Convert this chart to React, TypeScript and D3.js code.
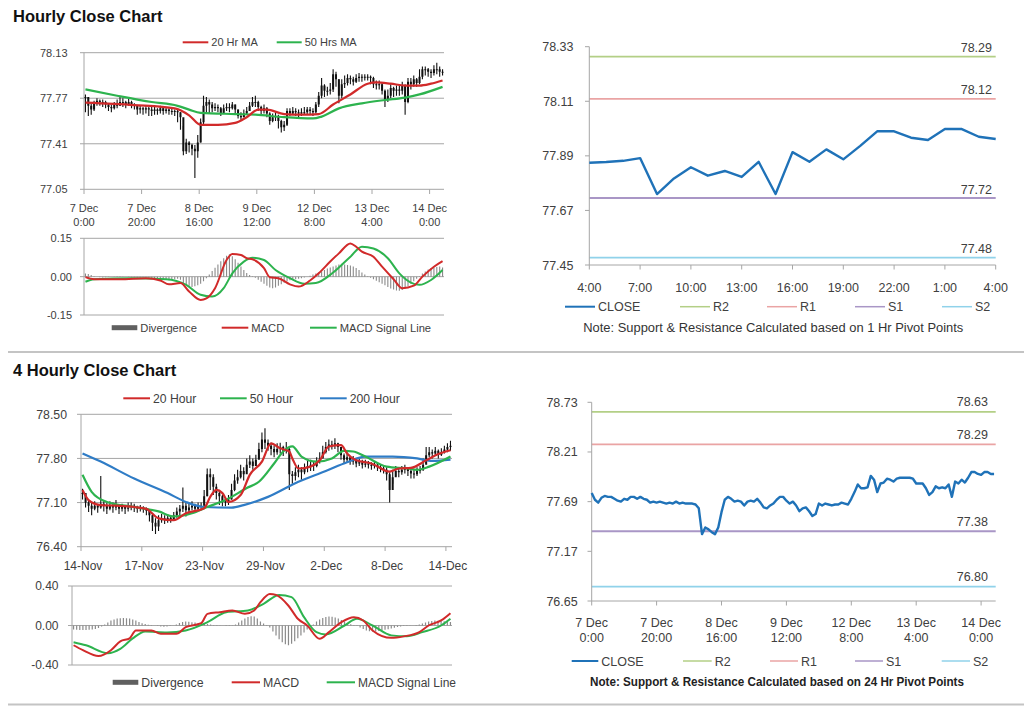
import React from 'react';
import * as d3 from 'd3';

const F = "'Liberation Sans', Arial, Helvetica, sans-serif";
const GRID = '#a6a6a6';
const TXT = '#404040';
const RED = '#d12a2a';
const GREEN = '#2db34e';
const BLUE = '#2f7cc6';
const CLOSE_C = '#1f72b8';
const R2C = '#b3cf86';
const R1C = '#eaa4a4';
const S1C = '#a996c6';
const S2C = '#90d2ea';

// ---------- Hourly data (7 Dec 0:00 -> 14 Dec 4:00) ----------
const hourlyTickIdx = [0, 20, 40, 60, 80, 100, 120];
const hourlyTickLabels = [["7 Dec", "0:00"], ["7 Dec", "20:00"], ["8 Dec", "16:00"], ["9 Dec", "12:00"], ["12 Dec", "8:00"], ["13 Dec", "4:00"], ["14 Dec", "0:00"]];

const hourlyClose = [77.78,77.71,77.68,77.73,77.75,77.74,77.74,77.72,77.70,77.69,
 77.72,77.71,77.74,77.74,77.72,77.74,77.72,77.71,77.68,77.69,
 77.68,77.69,77.68,77.67,77.68,77.67,77.69,77.67,77.68,77.67,
 77.67,77.67,77.66,77.62,77.35,77.42,77.40,77.37,77.35,77.42,
 77.58,77.71,77.74,77.72,77.69,77.70,77.69,77.65,77.69,77.70,
 77.69,77.72,77.68,77.63,77.62,77.65,77.67,77.71,77.74,77.74,
 77.70,77.67,77.69,77.65,77.59,77.62,77.63,77.59,77.54,77.56,
 77.67,77.65,77.67,77.66,77.65,77.66,77.66,77.68,77.67,77.66,
 77.72,77.79,77.87,77.83,77.83,77.84,77.96,77.92,77.79,77.88,
 77.89,77.93,77.92,77.90,77.93,77.94,77.94,77.94,77.94,77.93,
 77.88,77.88,77.88,77.83,77.76,77.79,77.85,77.83,77.84,77.83,
 77.87,77.74,77.90,77.88,77.92,77.89,77.94,78.00,78.00,77.98,
 77.97,78.00,78.00,77.98,77.98];
const hourlyHigh = [77.80,77.78,77.73,77.75,77.77,77.76,77.76,77.75,77.73,77.72,
 77.74,77.76,77.78,77.77,77.75,77.78,77.75,77.73,77.71,77.71,
 77.70,77.71,77.70,77.70,77.70,77.69,77.71,77.70,77.70,77.69,
 77.69,77.68,77.68,77.66,77.55,77.45,77.43,77.41,77.40,77.48,
 77.61,77.79,77.78,77.76,77.74,77.73,77.72,77.70,77.72,77.73,
 77.73,77.74,77.72,77.68,77.66,77.68,77.70,77.74,77.78,77.79,
 77.75,77.71,77.72,77.70,77.66,77.65,77.66,77.64,77.60,77.59,
 77.69,77.69,77.70,77.69,77.68,77.69,77.70,77.70,77.70,77.69,
 77.74,77.82,77.93,77.88,77.86,77.89,78.00,77.98,77.92,77.92,
 77.95,77.96,77.95,77.94,77.96,77.97,77.96,77.96,77.96,77.95,
 77.94,77.91,77.91,77.89,77.84,77.84,77.88,77.86,77.87,77.87,
 77.90,77.88,77.93,77.93,77.95,77.93,78.00,78.02,78.02,78.01,
 78.00,78.03,78.05,78.02,78.00];
const hourlyLow = [77.66,77.63,77.64,77.67,77.71,77.71,77.70,77.69,77.67,77.66,
 77.68,77.69,77.71,77.70,77.69,77.71,77.69,77.68,77.64,77.65,
 77.64,77.65,77.63,77.63,77.64,77.64,77.65,77.64,77.65,77.64,
 77.64,77.63,77.58,77.52,77.32,77.33,77.34,77.32,77.14,77.30,
 77.42,77.56,77.66,77.65,77.66,77.67,77.66,77.63,77.66,77.67,
 77.66,77.68,77.64,77.61,77.60,77.62,77.64,77.67,77.70,77.70,
 77.67,77.64,77.65,77.62,77.56,77.58,77.59,77.53,77.50,77.51,
 77.55,77.63,77.64,77.63,77.62,77.63,77.64,77.64,77.64,77.63,
 77.65,77.70,77.77,77.78,77.79,77.80,77.82,77.86,77.73,77.77,
 77.85,77.87,77.88,77.87,77.89,77.90,77.90,77.91,77.91,77.88,
 77.85,77.84,77.84,77.80,77.70,77.74,77.77,77.78,77.79,77.79,
 77.80,77.64,77.73,77.84,77.86,77.86,77.88,77.92,77.95,77.94,
 77.93,77.95,77.96,77.94,77.95];

const ma20Hr = [[0,77.735],[17,77.716],[31,77.69],[36,77.635],[40,77.56],[46,77.56],[52,77.575],[56,77.62],[60,77.68],[63,77.68],[69,77.645],[75,77.64],[81,77.645],[86,77.72],[92,77.80],[98,77.885],[101,77.895],[106,77.885],[111,77.87],[116,77.87],[120,77.885],[124,77.91]];
const ma50Hr = [[0,77.84],[11,77.79],[23,77.74],[32,77.71],[36,77.68],[40,77.655],[52,77.645],[59,77.64],[69,77.62],[79,77.61],[82,77.625],[88,77.69],[96,77.73],[104,77.756],[111,77.775],[116,77.80],[124,77.86]];

const macdHr = [[0,-0.002],[3,-0.01],[12,-0.01],[21,-0.006],[26,-0.015],[29,-0.03],[33,-0.025],[36,-0.058],[40,-0.091],[42,-0.085],[45,-0.045],[49,0.065],[51,0.089],[54,0.085],[56,0.072],[58,0.068],[62,0.033],[64,-0.002],[67,-0.006],[71,-0.03],[74,-0.039],[78,-0.015],[81,0.013],[85,0.059],[88,0.091],[92,0.13],[94,0.117],[96,0.098],[100,0.078],[103,0.039],[107,-0.01],[110,-0.045],[114,-0.035],[117,0.0],[121,0.039],[124,0.061]];
const signalHr = [[0,-0.02],[3,-0.01],[16,-0.006],[28,-0.01],[35,-0.032],[40,-0.071],[44,-0.078],[48,-0.045],[51,0.013],[55,0.059],[58,0.074],[62,0.065],[66,0.026],[71,-0.006],[76,-0.028],[80,-0.025],[86,0.016],[92,0.078],[96,0.117],[100,0.11],[105,0.072],[109,0.013],[113,-0.023],[116,-0.032],[120,-0.013],[124,0.026]];
const divHr = [0.012,0.010,0.006,0.002,0.0,-0.002,-0.003,-0.002,-0.001,0.0,
 0.001,0.002,0.002,0.001,0.0,-0.001,-0.002,-0.002,-0.003,-0.003,
 -0.002,-0.002,-0.003,-0.004,-0.005,-0.006,-0.008,-0.010,-0.012,-0.014,
 -0.012,-0.010,-0.008,-0.012,-0.025,-0.032,-0.036,-0.040,-0.038,-0.034,
 -0.028,-0.018,-0.006,0.008,0.022,0.035,0.048,0.060,0.072,0.082,
 0.088,0.080,0.068,0.054,0.040,0.026,0.014,0.006,0.002,-0.004,
 -0.012,-0.020,-0.028,-0.036,-0.042,-0.045,-0.042,-0.036,-0.030,-0.024,
 -0.018,-0.014,-0.012,-0.010,-0.008,-0.006,-0.003,0.0,0.004,0.008,
 0.012,0.016,0.020,0.026,0.032,0.036,0.040,0.044,0.048,0.050,
 0.048,0.046,0.044,0.040,0.034,0.026,0.016,0.008,0.002,-0.004,
 -0.010,-0.016,-0.022,-0.028,-0.034,-0.040,-0.046,-0.050,-0.054,-0.055,
 -0.052,-0.046,-0.038,-0.028,-0.018,-0.008,0.002,0.012,0.020,0.028,
 0.034,0.036,0.038,0.040,0.036];

// ---------- 4 hourly data ----------
const fourTickIdx = [0, 20, 40, 60, 80, 100, 120];
const fourTickLabels = ["14-Nov", "17-Nov", "23-Nov", "29-Nov", "2-Dec", "8-Dec", "14-Dec"];
const fourClose = [77.25,77.10,77.05,77.00,77.05,77.02,77.08,77.05,77.00,77.05,
 77.02,77.05,77.00,77.03,77.00,77.02,77.05,77.03,77.00,77.02,
 77.00,76.97,76.90,76.78,76.72,76.82,76.85,76.82,76.86,76.84,
 76.90,76.96,77.00,77.05,76.98,77.02,77.05,77.00,77.04,77.05,
 77.20,77.55,77.50,77.35,77.25,77.20,77.12,77.10,77.15,77.30,
 77.45,77.50,77.60,77.55,77.70,77.75,77.68,77.78,77.95,78.10,
 78.05,78.00,77.95,77.90,77.95,77.98,77.92,77.95,77.55,77.52,
 77.58,77.62,77.58,77.65,77.68,77.70,77.68,77.75,77.80,77.90,
 77.98,78.02,78.00,78.04,77.98,77.85,77.78,77.82,77.75,77.78,
 77.72,77.74,77.70,77.72,77.70,77.68,77.70,77.66,77.64,77.62,
 77.55,77.30,77.50,77.60,77.58,77.62,77.64,77.60,77.56,77.55,
 77.60,77.62,77.70,77.85,77.90,77.88,77.92,77.86,77.90,77.94,
 77.98,78.00];
const fourHigh = [77.32,77.25,77.14,77.10,77.12,77.08,77.52,77.14,77.10,77.12,
 77.10,77.14,77.06,77.08,77.06,77.10,77.10,77.08,77.05,77.06,
 77.04,77.02,76.98,76.92,76.85,76.90,76.92,76.90,76.92,76.90,
 76.95,77.02,77.06,77.34,77.10,77.08,77.12,77.08,77.10,77.10,
 77.30,77.64,77.64,77.55,77.40,77.30,77.22,77.18,77.22,77.40,
 77.55,77.62,77.70,77.66,77.80,77.85,77.80,77.86,78.05,78.21,
 78.28,78.10,78.05,78.00,78.04,78.05,78.00,78.06,77.98,77.60,
 77.66,77.70,77.66,77.72,77.76,77.78,77.75,77.82,77.90,78.00,
 78.06,78.10,78.08,78.12,78.05,77.96,77.88,77.90,77.84,77.84,
 77.80,77.80,77.78,77.78,77.76,77.74,77.76,77.72,77.70,77.68,
 77.66,77.58,77.62,77.68,77.66,77.68,77.70,77.66,77.62,77.62,
 77.66,77.68,77.80,77.98,77.98,77.94,77.98,77.94,77.96,78.00,
 78.04,78.08];
const fourLow = [77.15,77.02,76.95,76.90,76.98,76.94,77.00,76.96,76.92,76.98,
 76.94,76.98,76.92,76.96,76.92,76.96,76.98,76.95,76.94,76.96,
 76.94,76.90,76.80,76.65,76.60,76.65,76.78,76.76,76.78,76.78,
 76.82,76.86,76.90,76.95,76.88,76.92,76.98,76.96,76.98,77.00,
 77.05,77.20,77.30,77.22,77.15,77.06,77.04,77.04,77.06,77.15,
 77.28,77.40,77.48,77.45,77.60,77.65,77.62,77.70,77.80,77.90,
 77.95,77.92,77.85,77.82,77.86,77.88,77.84,77.88,77.30,77.40,
 77.45,77.50,77.46,77.55,77.58,77.60,77.60,77.66,77.72,77.82,
 77.88,77.92,77.94,77.95,77.90,77.78,77.72,77.74,77.70,77.70,
 77.66,77.68,77.64,77.66,77.64,77.62,77.64,77.60,77.58,77.56,
 77.45,77.10,77.40,77.52,77.50,77.54,77.56,77.52,77.48,77.48,
 77.52,77.56,77.60,77.72,77.82,77.80,77.84,77.80,77.84,77.88,
 77.90,77.92];

const ma20Four = [[0,77.30],[2,77.14],[6,77.06],[11,77.05],[17,77.03],[21,77.00],[25,76.85],[30,76.82],[34,76.93],[40,77.01],[42,77.19],[44,77.30],[46,77.25],[48,77.11],[52,77.22],[55,77.54],[59,77.75],[62,78.04],[65,77.96],[68,77.91],[69,77.80],[71,77.64],[75,77.67],[78,77.77],[81,77.99],[85,78.01],[87,77.88],[90,77.77],[95,77.72],[101,77.59],[104,77.64],[108,77.65],[113,77.77],[117,77.87],[121,77.93]];
const ma50Four = [[0,77.54],[3,77.27],[8,77.11],[17,77.03],[25,76.96],[30,76.88],[36,76.93],[41,77.03],[47,77.14],[54,77.33],[58,77.43],[63,77.72],[66,77.91],[69,77.99],[72,77.83],[77,77.75],[82,77.80],[86,77.92],[89,77.91],[93,77.83],[100,77.67],[107,77.64],[110,77.62],[114,77.67],[121,77.83]];
const ma200Four = [[0,77.88],[6,77.75],[17,77.48],[28,77.25],[34,77.11],[40,77.03],[49,77.02],[53,77.06],[61,77.19],[71,77.43],[80,77.60],[87,77.74],[93,77.83],[102,77.83],[110,77.80],[115,77.76],[121,77.78]];

const macdFour = [[0,-0.20],[3,-0.25],[8,-0.31],[12,-0.25],[15,-0.16],[18,-0.13],[20,-0.05],[25,-0.05],[28,-0.084],[33,-0.084],[36,-0.017],[41,0.024],[43,0.118],[47,0.135],[51,0.152],[55,0.118],[58,0.152],[60,0.236],[63,0.32],[65,0.31],[69,0.2],[72,0.068],[75,0.0],[79,-0.135],[82,-0.067],[86,0.034],[90,0.084],[93,0.051],[96,-0.05],[102,-0.125],[106,-0.11],[111,-0.067],[114,0.0],[118,0.051],[121,0.125]];
const signalFour = [[0,-0.169],[4,-0.20],[11,-0.28],[15,-0.236],[19,-0.13],[23,-0.06],[30,-0.07],[36,-0.05],[43,0.034],[49,0.135],[56,0.152],[61,0.22],[66,0.31],[70,0.287],[74,0.084],[78,-0.067],[81,-0.09],[87,0.0],[91,0.068],[96,0.0],[102,-0.1],[107,-0.11],[112,-0.067],[118,0.0],[121,0.068]];
const divFour = [-0.040,-0.042,-0.045,-0.046,-0.045,-0.042,-0.040,-0.035,-0.025,-0.010,
 0.010,0.030,0.050,0.062,0.070,0.074,0.076,0.074,0.070,0.062,
 0.050,0.036,0.024,0.014,0.008,0.004,0.0,-0.006,-0.010,-0.012,
 -0.010,-0.006,0.0,0.010,0.025,0.035,0.040,0.038,0.034,0.030,
 0.026,0.022,0.018,0.014,0.010,0.006,0.004,0.002,0.0,-0.004,
 -0.006,-0.002,0.010,0.030,0.050,0.070,0.086,0.094,0.090,0.070,
 0.040,0.020,0.004,-0.020,-0.060,-0.100,-0.140,-0.170,-0.190,-0.200,
 -0.185,-0.160,-0.130,-0.100,-0.070,-0.040,-0.015,0.010,0.040,0.060,
 0.075,0.085,0.090,0.088,0.080,0.070,0.055,0.040,0.025,0.012,
 0.004,-0.006,-0.020,-0.035,-0.050,-0.058,-0.062,-0.060,-0.056,-0.050,
 -0.044,-0.038,-0.030,-0.022,-0.016,-0.010,-0.006,-0.004,-0.002,0.0,
 0.004,0.010,0.020,0.030,0.040,0.046,0.050,0.048,0.046,0.044,
 0.040,0.036];

// ---------- 1 hour pivot chart ----------
const oneHrTickLabels = ["4:00", "7:00", "10:00", "13:00", "16:00", "19:00", "22:00", "1:00", "4:00"];
const oneHrClose = [77.862,77.865,77.87,77.881,77.736,77.799,77.844,77.81,77.829,77.805,77.866,77.736,77.905,77.866,77.916,77.876,77.93,77.989,77.989,77.963,77.954,77.998,77.998,77.967,77.958];
const oneHrYTicks = [77.45, 77.67, 77.89, 78.11, 78.33];
const oneHrPivotNames = ["R2", "R1", "S1", "S2"];
const oneHrPivots = [78.29, 78.12, 77.72, 77.48];

// ---------- 24 hour pivot chart ----------
const dayYTicks = [76.65, 77.17, 77.69, 78.21, 78.73];
const dayPivots = [78.63, 78.29, 77.38, 76.80];

const pivotColors = [R2C, R1C, S1C, S2C];

type Pt = number[];
const curve = (xs: any, ys: any, pts: Pt[]) =>
  d3.line<Pt>().x(d => xs(d[0])).y(d => ys(d[1])).curve(d3.curveMonotoneX)(pts) || '';

function Bars({ xs, ys, high, low, close }: any) {
  const wick = high.map((h: number, i: number) => `M${xs(i)},${ys(h)}V${ys(low[i])}`).join('');
  const body = close.map((c: number, i: number) => {
    const o = i === 0 ? c : close[i - 1];
    const y0 = ys(Math.max(o, c)), y1 = ys(Math.min(o, c));
    return `M${xs(i) - 1},${y0}H${xs(i) + 1}V${Math.max(y1, y0 + 1)}H${xs(i) - 1}Z`;
  }).join('');
  return (
    <g>
      <path d={wick} stroke="#111" strokeWidth={1.1} fill="none" />
      <path d={body} fill="#111" stroke="none" />
    </g>
  );
}

function YGrid({ ys, ticks, x0, x1, labelX, fs, fmt }: any) {
  return (
    <g>
      {ticks.map((t: number, i: number) => (
        <g key={i}>
          <line x1={x0 - 4} x2={x1} y1={ys(t)} y2={ys(t)} stroke={GRID} strokeWidth={1} />
          <text x={labelX} y={ys(t) + fs * 0.36} textAnchor="end" fontSize={fs} fill={TXT} fontFamily={F}>{fmt(t)}</text>
        </g>
      ))}
      <line x1={x0} x2={x0} y1={ys(ticks[ticks.length - 1])} y2={ys(ticks[0])} stroke={GRID} strokeWidth={1} />
    </g>
  );
}

function LegendLine({ x1, x2, y, color, label, fs, w = 2 }: any) {
  return (
    <g>
      <line x1={x1} x2={x2} y1={y} y2={y} stroke={color} strokeWidth={w} />
      <text x={x2 + 3} y={y + fs * 0.36} fontSize={fs} fill={TXT} fontFamily={F}>{label}</text>
    </g>
  );
}

function LegendRect({ x1, x2, y, label, fs }: any) {
  return (
    <g>
      <rect x={x1} y={y - 2.5} width={x2 - x1} height={5} fill="#606060" />
      <text x={x2 + 3} y={y + fs * 0.36} fontSize={fs} fill={TXT} fontFamily={F}>{label}</text>
    </g>
  );
}

export default function App() {
  // Panel A: hourly price
  const xA = d3.scaleLinear().domain([-0.5, 124.5]).range([84, 444]);
  const yA = d3.scaleLinear().domain([77.05, 78.13]).range([189.3, 52.7]);
  // Panel B: hourly MACD
  const yB = d3.scaleLinear().domain([-0.15, 0.15]).range([315, 238.3]);
  // Panel C: 4 hourly price
  const xC = d3.scaleLinear().domain([-0.5, 121.5]).range([81, 452]);
  const yC = d3.scaleLinear().domain([76.40, 78.50]).range([546.7, 414.3]);
  // Panel D: 4 hourly MACD
  const xD = d3.scaleLinear().domain([-0.5, 121.5]).range([72, 452]);
  const yD = d3.scaleLinear().domain([-0.4, 0.4]).range([665, 586]);
  // Panel E: 1hr pivot
  const xE = d3.scaleLinear().domain([0, 24]).range([589.3, 995.7]);
  const yE = d3.scaleLinear().domain([77.45, 78.33]).range([265, 46.7]);
  // Panel F: 24hr pivot
  const xF = d3.scaleLinear().domain([0, 124.5]).range([591.7, 995.7]);
  const yF = d3.scaleLinear().domain([76.65, 78.73]).range([601, 402.3]);

  const f2 = (v: number) => v.toFixed(2);

  const closeLineE = d3.line<number>().x((_, i) => xE(i)).y(d => yE(d))(oneHrClose) || '';
  const closeLineF = d3.line<number>().x((_, i) => xF(i)).y(d => yF(d))(hourlyClose) || '';

  const divBars = (vals: number[], xs: any, ys: any) =>
    vals.map((v, i) => `M${xs(i)},${ys(0)}V${ys(v)}`).join('');

  return (
    <svg width={1024} height={706} viewBox="0 0 1024 706" style={{ position: 'absolute', left: 0, top: 0, background: '#fff' }} fontFamily={F}>
      <rect x={0} y={0} width={1024} height={706} fill="#fff" />

      {/* Titles */}
      <text x={13} y={22} fontSize={16.5} fontWeight="bold" fill="#111">Hourly Close Chart</text>
      <text x={13} y={375.5} fontSize={16.5} fontWeight="bold" fill="#111">4 Hourly Close Chart</text>

      {/* separators */}
      <rect x={8} y={351} width={1016} height={2} fill="#c4c4c4" />
      <rect x={8} y={703.5} width={1016} height={2} fill="#c4c4c4" />

      {/* ===== Panel A ===== */}
      <LegendLine x1={182.7} x2={208.3} y={42.3} color={RED} label="20 Hr MA" fs={11} />
      <LegendLine x1={276.7} x2={301.7} y={42.3} color={GREEN} label="50 Hrs MA" fs={11} />
      <YGrid ys={yA} ticks={[77.05, 77.41, 77.77, 78.13]} x0={84} x1={444} labelX={67.5} fs={11} fmt={f2} />
      {hourlyTickIdx.map((t, i) => (
        <g key={i}>
          <line x1={xA(t - 0.5)} x2={xA(t - 0.5)} y1={189.3} y2={194} stroke={GRID} />
          <text x={xA(t - 0.5)} y={212} textAnchor="middle" fontSize={11} fill={TXT}>{hourlyTickLabels[i][0]}</text>
          <text x={xA(t - 0.5)} y={226} textAnchor="middle" fontSize={11} fill={TXT}>{hourlyTickLabels[i][1]}</text>
        </g>
      ))}
      <Bars xs={xA} ys={yA} high={hourlyHigh} low={hourlyLow} close={hourlyClose} />
      <path d={curve(xA, yA, ma50Hr)} stroke={GREEN} strokeWidth={2.2} fill="none" />
      <path d={curve(xA, yA, ma20Hr)} stroke={RED} strokeWidth={2.2} fill="none" />

      {/* ===== Panel B ===== */}
      <YGrid ys={yB} ticks={[-0.15, 0, 0.15]} x0={84} x1={444} labelX={72} fs={11} fmt={f2} />
      <path d={divBars(divHr, xA, yB)} stroke="#8a8a8a" strokeWidth={1.1} fill="none" />
      <path d={curve(xA, yB, signalHr)} stroke={GREEN} strokeWidth={2} fill="none" />
      <path d={curve(xA, yB, macdHr)} stroke={RED} strokeWidth={2} fill="none" />
      <LegendRect x1={111.7} x2={137.3} y={327.7} label="Divergence" fs={11.2} />
      <LegendLine x1={221.7} x2={248.3} y={327.7} color={RED} label="MACD" fs={11.2} />
      <LegendLine x1={310} x2={336.7} y={327.7} color={GREEN} label="MACD Signal Line" fs={11.2} />

      {/* ===== Panel C ===== */}
      <LegendLine x1={123.3} x2={150} y={398.3} color={RED} label="20 Hour" fs={12.2} />
      <LegendLine x1={220} x2={246.7} y={398.3} color={GREEN} label="50 Hour" fs={12.2} />
      <LegendLine x1={320} x2={346.7} y={398.3} color={BLUE} label="200 Hour" fs={12.2} />
      <YGrid ys={yC} ticks={[76.40, 77.10, 77.80, 78.50]} x0={81} x1={452} labelX={67} fs={12.3} fmt={f2} />
      {fourTickIdx.map((t, i) => (
        <g key={i}>
          <line x1={xC(t - 0.5)} x2={xC(t - 0.5)} y1={546.7} y2={551} stroke={GRID} />
          <text x={xC(t - 0.5) + 2} y={569.5} textAnchor="middle" fontSize={12} fill={TXT}>{fourTickLabels[i]}</text>
        </g>
      ))}
      <Bars xs={xC} ys={yC} high={fourHigh} low={fourLow} close={fourClose} />
      <path d={curve(xC, yC, ma200Four)} stroke={BLUE} strokeWidth={2.2} fill="none" />
      <path d={curve(xC, yC, ma50Four)} stroke={GREEN} strokeWidth={2.2} fill="none" />
      <path d={curve(xC, yC, ma20Four)} stroke={RED} strokeWidth={2.2} fill="none" />

      {/* ===== Panel D ===== */}
      <YGrid ys={yD} ticks={[-0.4, 0, 0.4]} x0={72} x1={452} labelX={58.5} fs={12} fmt={f2} />
      <path d={divBars(divFour, xD, yD)} stroke="#8a8a8a" strokeWidth={1.2} fill="none" />
      <path d={curve(xD, yD, signalFour)} stroke={GREEN} strokeWidth={2} fill="none" />
      <path d={curve(xD, yD, macdFour)} stroke={RED} strokeWidth={2} fill="none" />
      <LegendRect x1={112.7} x2={138.3} y={682.3} label="Divergence" fs={12.3} />
      <LegendLine x1={231.7} x2={260} y={682.3} color={RED} label="MACD" fs={12.3} />
      <LegendLine x1={326.7} x2={355} y={682.3} color={GREEN} label="MACD Signal Line" fs={12} />

      {/* ===== Panel E ===== */}
      {oneHrYTicks.map((t, i) => (
        <g key={i}>
          <line x1={585} x2={589.3} y1={yE(t)} y2={yE(t)} stroke={GRID} />
          <text x={573.5} y={yE(t) + 4.5} textAnchor="end" fontSize={12.5} fill={TXT}>{f2(t)}</text>
        </g>
      ))}
      {oneHrTickLabels.map((l, i) => (
        <g key={i}>
          <line x1={xE(i * 3)} x2={xE(i * 3)} y1={265} y2={269.5} stroke={GRID} />
          <text x={xE(i * 3)} y={292} textAnchor="middle" fontSize={12.5} fill={TXT}>{l}</text>
        </g>
      ))}
      {oneHrPivots.map((p, i) => (
        <g key={i}>
          <line x1={589.3} x2={995.7} y1={yE(p)} y2={yE(p)} stroke={pivotColors[i]} strokeWidth={1.8} />
          <text x={992} y={yE(p) - 4.5} textAnchor="end" fontSize={12.5} fill={TXT}>{f2(p)}</text>
        </g>
      ))}
      <line x1={589.3} x2={589.3} y1={46.7} y2={265} stroke={GRID} />
      <line x1={589.3} x2={995.7} y1={265} y2={265} stroke={GRID} />
      <path d={closeLineE} stroke={CLOSE_C} strokeWidth={2.4} fill="none" strokeLinejoin="round" />
      <LegendLine x1={565} x2={595} y={306.7} color={CLOSE_C} label="CLOSE" fs={12.5} />
      {oneHrPivotNames.map((n, i) => (
        <LegendLine key={n} x1={[680, 767, 855, 942][i]} x2={[710, 797, 885, 972][i]} y={306.7} color={pivotColors[i]} label={n} fs={12.5} w={1.5} />
      ))}
      <text x={583.3} y={332} fontSize={12} fill="#333" textLength={380} lengthAdjust="spacingAndGlyphs">Note: Support &amp; Resistance Calculated based on 1 Hr Pivot Points</text>

      {/* ===== Panel F ===== */}
      {dayYTicks.map((t, i) => (
        <g key={i}>
          <line x1={587.5} x2={591.7} y1={yF(t)} y2={yF(t)} stroke={GRID} />
          <text x={577.7} y={yF(t) + 4.5} textAnchor="end" fontSize={12.5} fill={TXT}>{f2(t)}</text>
        </g>
      ))}
      {hourlyTickIdx.map((t, i) => (
        <g key={i}>
          <line x1={xF(t)} x2={xF(t)} y1={601} y2={605.5} stroke={GRID} />
          <text x={xF(t)} y={627} textAnchor="middle" fontSize={12.5} fill={TXT}>{hourlyTickLabels[i][0]}</text>
          <text x={xF(t)} y={642} textAnchor="middle" fontSize={12.5} fill={TXT}>{hourlyTickLabels[i][1]}</text>
        </g>
      ))}
      {dayPivots.map((p, i) => (
        <g key={i}>
          <line x1={591.7} x2={995.7} y1={yF(p)} y2={yF(p)} stroke={pivotColors[i]} strokeWidth={1.8} />
          <text x={988} y={yF(p) - 5.5} textAnchor="end" fontSize={12.5} fill={TXT}>{f2(p)}</text>
        </g>
      ))}
      <line x1={591.7} x2={591.7} y1={402.3} y2={601} stroke={GRID} />
      <line x1={591.7} x2={995.7} y1={601} y2={601} stroke={GRID} />
      <path d={closeLineF} stroke={CLOSE_C} strokeWidth={2.4} fill="none" strokeLinejoin="round" />
      <LegendLine x1={571.7} x2={598.3} y={661} color={CLOSE_C} label="CLOSE" fs={12.5} />
      {oneHrPivotNames.map((n, i) => (
        <LegendLine key={n} x1={[683, 770, 855, 941.7][i]} x2={[711.7, 798, 883, 970][i]} y={661} color={pivotColors[i]} label={n} fs={12.5} w={1.5} />
      ))}
      <text x={590} y={685.5} fontSize={12} fill="#222" textLength={374} lengthAdjust="spacingAndGlyphs" fontWeight="bold">Note: Support &amp; Resistance Calculated based on 24 Hr Pivot Points</text>
    </svg>
  );
}
